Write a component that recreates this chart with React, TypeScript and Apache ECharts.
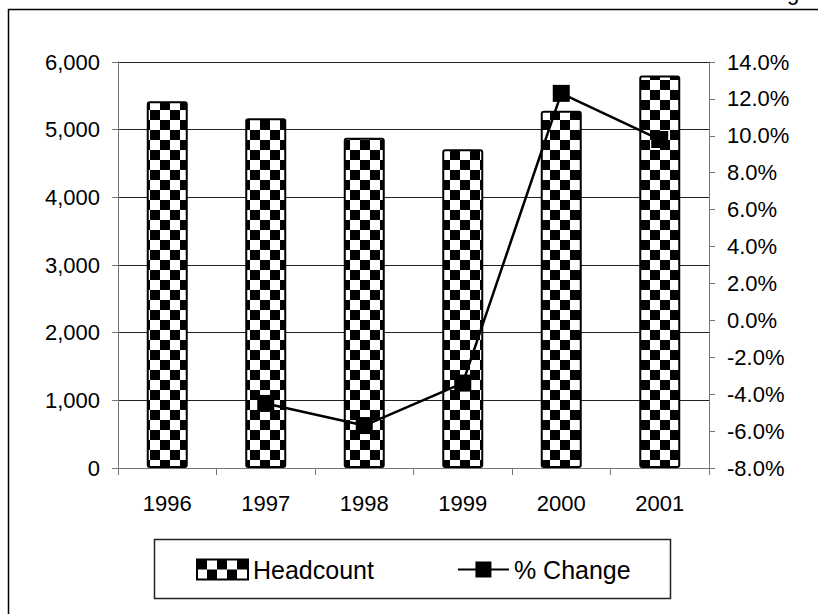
import React, { useEffect, useRef } from "react";
import * as echarts from "echarts";

const years = ["1996", "1997", "1998", "1999", "2000", "2001"];
const headcount = [5420, 5170, 4880, 4710, 5280, 5800];
const pctChange: (number | null)[] = [null, -4.5, -5.7, -3.4, 12.3, 9.8];
const leftAxis = { min: 0, max: 6000, interval: 1000 };
const rightAxis = { min: -8, max: 14, interval: 2 };
const seriesNames = ["Headcount", "% Change"];

const FONT = "'Liberation Sans', Arial, sans-serif";

function makeChecker(): HTMLCanvasElement {
  const c = document.createElement("canvas");
  c.width = 20;
  c.height = 20;
  const ctx = c.getContext("2d")!;
  ctx.fillStyle = "#fff";
  ctx.fillRect(0, 0, 20, 20);
  ctx.fillStyle = "#000";
  ctx.fillRect(0, 0, 10, 10);
  ctx.fillRect(10, 10, 10, 10);
  return c;
}

export default function App() {
  const ref = useRef<HTMLDivElement>(null);
  useEffect(() => {
    document.body.style.margin = "0";
    const chart = echarts.init(ref.current!, null, { renderer: "svg" });
    const checker = makeChecker();
    const pattern: any = {
      image: checker,
      repeat: "repeat",
      imageWidth: 20,
      imageHeight: 20,
    };
    chart.setOption({
      animation: false,
      backgroundColor: "#fff",
      textStyle: { fontFamily: FONT, color: "#000" },
      grid: { left: 118, right: 109, top: 62, bottom: 146, containLabel: false },
      graphic: [
        {
          type: "rect",
          z: -10,
          shape: { x: 8.5, y: 9.5, width: 900, height: 700 },
          style: { fill: "none", stroke: "#000", lineWidth: 1.5 },
          silent: true,
        },
        {
          type: "rect",
          z: -5,
          shape: { x: 154.5, y: 539.5, width: 516, height: 59 },
          style: { fill: "#fff", stroke: "#222", lineWidth: 1.5 },
          silent: true,
        },
        {
          type: "text",
          x: 787,
          y: 3,
          style: {
            text: "g",
            font: `22px ${FONT}`,
            fill: "#000",
            verticalAlign: "bottom",
          },
          silent: true,
        },
      ],
      legend: {
        left: 196,
        top: 557,
        padding: 0,
        itemWidth: 51,
        itemHeight: 20,
        itemGap: 83,
        textStyle: { fontSize: 25, fontFamily: FONT, color: "#000" },
        data: [{ name: seriesNames[0], icon: "rect" }, { name: seriesNames[1] }],
      },
      xAxis: {
        type: "category",
        data: years,
        axisLine: { lineStyle: { color: "#777", width: 1 } },
        axisTick: { show: true, length: 7, lineStyle: { color: "#777" } },
        axisLabel: { fontSize: 22, margin: 24, color: "#000", fontFamily: FONT },
      },
      yAxis: [
        {
          type: "value",
          min: leftAxis.min,
          max: leftAxis.max,
          interval: leftAxis.interval,
          axisLine: { show: true, lineStyle: { color: "#777", width: 1 } },
          axisTick: { show: true, length: 6, lineStyle: { color: "#777" } },
          splitLine: { show: true, lineStyle: { color: "#222", width: 1 } },
          axisLabel: {
            fontSize: 22,
            margin: 18,
            color: "#000",
            fontFamily: FONT,
            formatter: (v: number) => v.toLocaleString("en-US"),
          },
        },
        {
          type: "value",
          position: "right",
          min: rightAxis.min,
          max: rightAxis.max,
          interval: rightAxis.interval,
          axisLine: { show: true, lineStyle: { color: "#777", width: 1 } },
          axisTick: { show: true, length: 6, lineStyle: { color: "#777" } },
          splitLine: { show: false },
          axisLabel: {
            fontSize: 22,
            margin: 18,
            color: "#000",
            fontFamily: FONT,
            formatter: (v: number) => v.toFixed(1) + "%",
          },
        },
      ],
      series: [
        {
          name: seriesNames[0],
          type: "bar",
          data: headcount,
          barWidth: 41,
          itemStyle: {
            color: pattern,
            borderColor: "#000",
            borderWidth: 2,
            borderRadius: 2,
          },
        },
        {
          name: seriesNames[1],
          type: "line",
          yAxisIndex: 1,
          data: pctChange,
          symbol: "rect",
          symbolSize: 17,
          itemStyle: { color: "#000" },
          lineStyle: { color: "#000", width: 2.5 },
          z: 5,
        },
      ],
    });
    return () => chart.dispose();
  }, []);
  return <div ref={ref} style={{ width: 818, height: 614 }} />;
}
